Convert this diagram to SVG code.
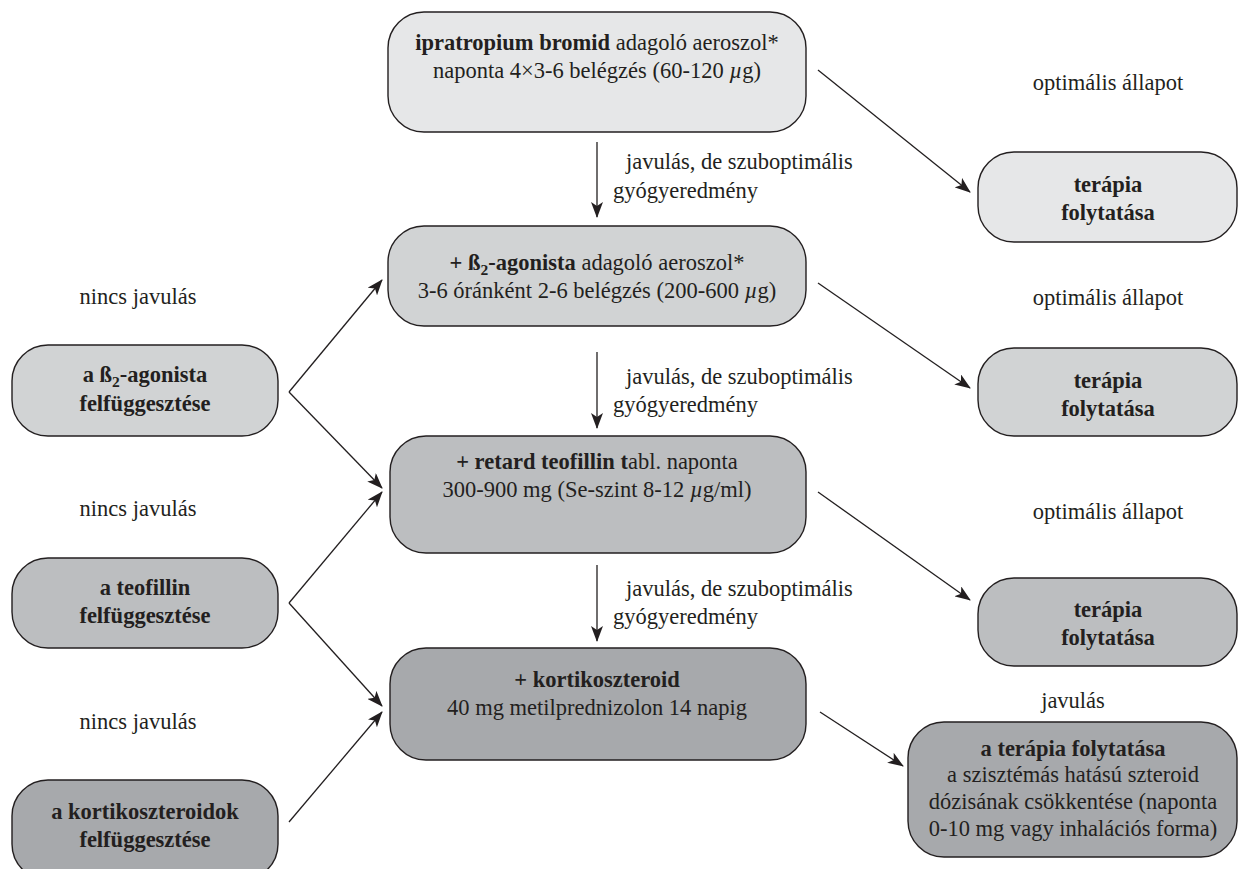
<svg xmlns="http://www.w3.org/2000/svg" width="1239" height="869" viewBox="0 0 1239 869" font-family="'Liberation Serif', 'Times New Roman', 'DejaVu Serif', serif">
<style>
text{font-family:'Liberation Serif','Times New Roman','DejaVu Serif',serif;font-size:22.5px;fill:#231f20}
.c{text-anchor:middle}
.b{font-weight:bold}
.i{font-style:italic}
.box{stroke:#231f20;stroke-width:1.4}
.f1{fill:#e6e7e8}.f2{fill:#d1d3d4}.f3{fill:#bcbec0}.f4{fill:#a7a9ac}
.ln{stroke:#231f20;stroke-width:1.3;fill:none;marker-end:url(#ah)}
</style>
<defs>
<marker id="ah" viewBox="0 0 16 12" refX="15" refY="6" markerWidth="16" markerHeight="12" markerUnits="userSpaceOnUse" orient="auto">
<path d="M0,0 L16,6 L0,12 L4,6 Z" fill="#231f20"/>
</marker>
</defs>
<rect width="1239" height="869" fill="#fff"/>

<g id="connectors">
<line class="ln" x1="597" y1="142" x2="597" y2="217"/>
<line class="ln" x1="597" y1="352" x2="597" y2="428"/>
<line class="ln" x1="597" y1="565" x2="597" y2="641"/>
<line class="ln" x1="818" y1="70" x2="970" y2="192"/>
<line class="ln" x1="818" y1="283" x2="970" y2="388"/>
<line class="ln" x1="818" y1="492" x2="970" y2="600"/>
<line class="ln" x1="820" y1="712" x2="903" y2="766"/>
<polyline class="ln" points="289,392 382,280"/>
<polyline class="ln" points="289,392 382,488"/>
<polyline class="ln" points="289,603 382,492"/>
<polyline class="ln" points="289,603 382,706"/>
<polyline class="ln" points="289,822 382,712"/>
</g>

<g id="labels">
<text class="c" x="1108" y="90">optimális állapot</text>
<text class="c" x="1108" y="305">optimális állapot</text>
<text class="c" x="1108" y="519">optimális állapot</text>
<text class="c" x="1073" y="708">javulás</text>
<text class="c" x="138" y="304">nincs javulás</text>
<text class="c" x="138" y="516">nincs javulás</text>
<text class="c" x="138" y="729">nincs javulás</text>
<text x="626" y="169">javulás, de szuboptimális</text>
<text x="613" y="198">gyógyeredmény</text>
<text x="626" y="384">javulás, de szuboptimális</text>
<text x="613" y="412">gyógyeredmény</text>
<text x="626" y="596">javulás, de szuboptimális</text>
<text x="613" y="624">gyógyeredmény</text>
</g>

<g id="n1">
<rect class="box f1" x="388" y="12" width="418" height="120" rx="36"/>
<text class="c" x="597" y="50"><tspan class="b">ipratropium bromid</tspan> adagoló aeroszol*</text>
<text class="c" x="597" y="78">naponta 4×3-6 belégzés (60-120 <tspan class="i">µ</tspan>g)</text>
</g>
<g id="n2">
<rect class="box f2" x="388" y="226" width="418" height="100" rx="36"/>
<text class="c" x="597" y="270"><tspan class="b">+ ß<tspan font-size="15.5" dy="5">2</tspan><tspan dy="-5">-agonista</tspan></tspan> adagoló aeroszol*</text>
<text class="c" x="597" y="298">3-6 óránként 2-6 belégzés (200-600 <tspan class="i">µ</tspan>g)</text>
</g>
<g id="n3">
<rect class="box f3" x="390" y="436" width="416" height="117" rx="36"/>
<text class="c" x="597" y="469"><tspan class="b">+ retard teofillin t</tspan>abl. naponta</text>
<text class="c" x="597" y="497">300-900 mg (Se-szint 8-12 <tspan class="i">µ</tspan>g/ml)</text>
</g>
<g id="n4">
<rect class="box f4" x="390" y="648" width="416" height="112" rx="36"/>
<text class="c b" x="597" y="687">+ kortikoszteroid</text>
<text class="c" x="597" y="715">40 mg metilprednizolon 14 napig</text>
</g>

<g id="r1">
<rect class="box f1" x="978" y="152" width="259" height="90" rx="36"/>
<text class="c b" x="1108" y="192">terápia</text>
<text class="c b" x="1108" y="220">folytatása</text>
</g>
<g id="r2">
<rect class="box f2" x="978" y="348" width="259" height="88" rx="36"/>
<text class="c b" x="1108" y="388">terápia</text>
<text class="c b" x="1108" y="416">folytatása</text>
</g>
<g id="r3">
<rect class="box f3" x="978" y="578" width="259" height="88" rx="36"/>
<text class="c b" x="1108" y="617">terápia</text>
<text class="c b" x="1108" y="645">folytatása</text>
</g>
<g id="r4">
<rect class="box f4" x="908" y="722" width="329" height="135" rx="36"/>
<text class="c b" x="1073" y="756">a terápia folytatása</text>
<text class="c" x="1073" y="782">a szisztémás hatású szteroid</text>
<text class="c" x="1073" y="809">dózisának csökkentése (naponta</text>
<text class="c" x="1073" y="836">0-10 mg vagy inhalációs forma)</text>
</g>

<g id="l1">
<rect class="box f2" x="12" y="345" width="266" height="91" rx="36"/>
<text class="c b" x="145" y="382">a ß<tspan font-size="15.5" dy="5">2</tspan><tspan dy="-5">-agonista</tspan></text>
<text class="c b" x="145" y="411">felfüggesztése</text>
</g>
<g id="l2">
<rect class="box f3" x="12" y="558" width="266" height="90" rx="36"/>
<text class="c b" x="145" y="595">a teofillin</text>
<text class="c b" x="145" y="623">felfüggesztése</text>
</g>
<g id="l3">
<rect class="box f4" x="12" y="780" width="266" height="100" rx="36"/>
<text class="c b" x="145" y="819">a kortikoszteroidok</text>
<text class="c b" x="145" y="847">felfüggesztése</text>
</g>
</svg>
